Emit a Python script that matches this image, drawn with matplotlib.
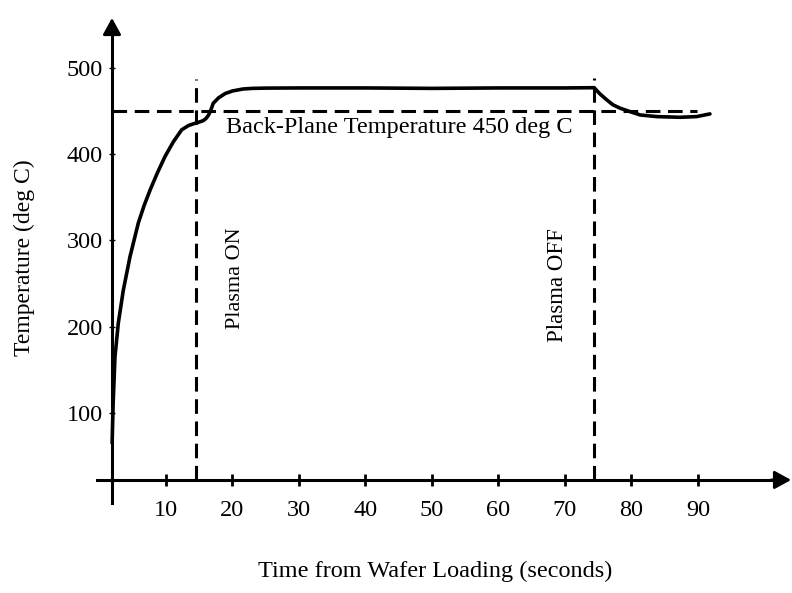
import matplotlib
matplotlib.use("Agg")
import matplotlib.pyplot as plt

plt.rcParams['font.family'] = ['Liberation Serif', 'DejaVu Serif']
plt.rcParams['lines.scale_dashes'] = False

# Wafer temperature trace (seconds, deg C)
time_s = [1.9, 2.05, 2.33, 2.83, 3.58, 4.59, 5.84, 6.7, 7.6, 8.7, 9.85, 11.1,
          12.36, 13.4, 14.4, 15.0, 15.6, 16.0, 16.4, 16.8, 17.1, 17.9, 18.9,
          20.0, 21.6, 23.0, 25.0, 30.0, 40.0, 50.0, 60.0, 70.0,
          74.4, 75.2, 76.3, 77.2, 78.3, 79.8, 81.3, 83.8, 87.3, 89.8, 91.8]
temp_c = [65, 110, 165, 204, 242, 281, 320, 340, 358, 378, 397, 414,
          428, 433, 435.6, 437, 438.6, 441, 445, 452, 458.7, 465, 470,
          473, 475.3, 476, 476.3, 476.5, 476.5, 476, 476.5, 476.5,
          476.8, 470, 462.6, 457, 453, 449, 445.2, 443.3, 442.5, 443.3, 446.4]

backplane_temp = 450
plasma_on_t = 14.5
plasma_off_t = 74.4

xticks = [10, 20, 30, 40, 50, 60, 70, 80, 90]
yticks = [100, 200, 300, 400, 500]

axis_x0 = 1.88      # where the temperature axis crosses the time axis
axis_y0 = 22.3      # where the time axis crosses the temperature axis

fig = plt.figure(figsize=(7.92, 5.93), dpi=100)
ax = fig.add_axes([0, 0, 1, 1])
ax.set_xlim(-14.96, 104.14)
ax.set_ylim(-108.7, 578.4)
ax.patch.set_visible(False)

for side in ('top', 'right'):
    ax.spines[side].set_visible(False)
ax.spines['left'].set_position(('data', axis_x0))
ax.spines['bottom'].set_position(('data', axis_y0))
ax.spines['left'].set_bounds(-4.4, 545)
ax.spines['bottom'].set_bounds(-0.4, 101.5)
ax.spines['left'].set_linewidth(2.2)
ax.spines['bottom'].set_linewidth(2.2)

# arrowheads on both axes
arrow = dict(arrowstyle='-|>,head_length=1.0,head_width=0.55', color='black',
             lw=2.0, mutation_scale=10, shrinkA=0, shrinkB=0)
ax.annotate('', xy=(104.0, axis_y0), xytext=(101.0, axis_y0), arrowprops=arrow,
            annotation_clip=False)
ax.annotate('', xy=(axis_x0, 557.6), xytext=(axis_x0, 540), arrowprops=arrow,
            annotation_clip=False)

ax.set_xticks(xticks)
ax.set_yticks(yticks)
ax.tick_params(axis='x', direction='inout', length=8.5, width=2.0, pad=10,
               labelsize=17.5)
ax.tick_params(axis='y', direction='inout', length=5, width=1.0, pad=4,
               labelsize=17.5)

# back-plane reference line and plasma on/off markers
ax.plot([axis_x0, 89.8], [backplane_temp, backplane_temp], color='black',
        lw=2.2, dashes=(10.5, 5.5))
ax.plot([plasma_on_t, plasma_on_t], [axis_y0, 486.8], color='black',
        lw=2.2, dashes=(10.5, 5.5))
ax.plot([plasma_off_t, plasma_off_t], [axis_y0, 488], color='black',
        lw=2.2, dashes=(10.5, 5.5))

ax.plot(time_s, temp_c, color='black', lw=2.6, solid_joinstyle='round',
        solid_capstyle='round')

ax.text(19.0, 424, 'Back-Plane Temperature 450 deg C', fontsize=17.5,
        ha='left', va='baseline')
ax.text(20.4, 256, 'Plasma ON', fontsize=16, rotation=90,
        ha='center', va='center')
ax.text(68.9, 248, 'Plasma OFF', fontsize=16.5, rotation=90,
        ha='center', va='center')
ax.text(-11.35, 279.5, 'Temperature (deg C)', fontsize=17, rotation=90,
        ha='center', va='center', clip_on=False)
ax.text(50.45, -83.2, 'Time from Wafer Loading (seconds)', fontsize=17.5,
        ha='center', va='center', clip_on=False)

fig.savefig('out.png', dpi=100)
